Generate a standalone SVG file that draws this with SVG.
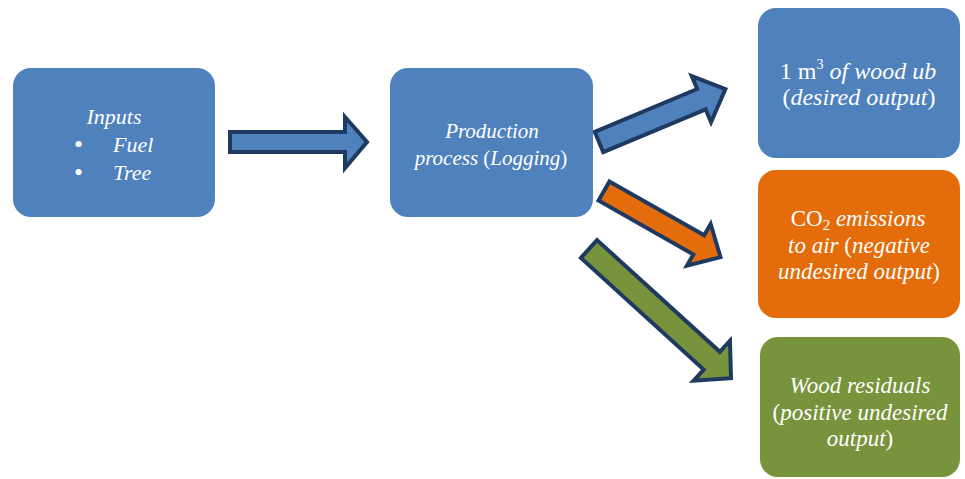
<svg xmlns="http://www.w3.org/2000/svg" width="965" height="479" viewBox="0 0 965 479">
<style>
.box{stroke:none}
.blue{fill:#4F81BD}
.orange{fill:#E46C0A}
.green{fill:#77933C}
.t{font-family:'Liberation Serif','Times New Roman',serif;fill:#FFFFFF;text-anchor:middle}
.tl{font-family:'Liberation Serif','Times New Roman',serif;fill:#FFFFFF}
.i{font-style:italic}
.arrow{stroke:#1F3A60;stroke-width:4;stroke-linejoin:miter}
</style>
<rect width="965" height="479" fill="#FFFFFF"/>
<g id="connectors">
  <polygon class="arrow blue" points="230,132 345,132 345,117 367,142 345,168 345,152 230,152"/>
  <polygon class="arrow blue" transform="translate(599,142) rotate(-22.7)" points="0,-11 111,-11 111,-25 137,0 111,25 111,11 0,11"/>
  <polygon class="arrow orange" transform="translate(604,191) rotate(29.6)" points="0,-11 109,-11 109,-24 134,0 109,24 109,11 0,11"/>
  <polygon class="arrow green" transform="translate(589,249) rotate(42.3)" points="0,-12 166,-12 166,-27 192,0 166,27 166,12 0,12"/>
</g>
<g id="inputs">
  <rect class="box blue" x="13" y="68" width="202" height="149" rx="18"/>
  <text class="t i" x="114" y="124" font-size="22">Inputs</text>
  <text class="tl" x="74" y="153" font-size="26">•</text>
  <text class="tl i" x="113" y="152" font-size="22">Fuel</text>
  <text class="tl" x="74" y="181" font-size="26">•</text>
  <text class="tl i" x="113" y="180" font-size="22">Tree</text>
</g>
<g id="production">
  <rect class="box blue" x="390" y="68" width="203" height="149" rx="18"/>
  <text class="t i" x="492" y="138" font-size="21">Production</text>
  <text class="t" x="491" y="165" font-size="21"><tspan class="i">process </tspan>(<tspan class="i">Logging</tspan>)</text>
</g>
<g id="wood">
  <rect class="box blue" x="758" y="8" width="202" height="150" rx="18"/>
  <text class="t" x="858" y="79" font-size="24">1 m<tspan font-size="14" dy="-10">3</tspan><tspan class="i" dy="10"> of wood ub</tspan></text>
  <text class="t" x="859" y="105" font-size="24">(<tspan class="i">desired output</tspan>)</text>
</g>
<g id="co2">
  <rect class="box orange" x="758" y="170" width="202" height="148" rx="18"/>
  <text class="t" x="858" y="226" font-size="23">CO<tspan font-size="15" dy="4">2</tspan><tspan class="i" dy="-4"> emissions</tspan></text>
  <text class="t" x="859" y="253" font-size="23"><tspan class="i">to air </tspan>(<tspan class="i">negative</tspan></text>
  <text class="t" x="859" y="279" font-size="23"><tspan class="i">undesired output</tspan>)</text>
</g>
<g id="residuals">
  <rect class="box green" x="760" y="337" width="200" height="140" rx="18"/>
  <text class="t i" x="860" y="393" font-size="23">Wood residuals</text>
  <text class="t" x="860" y="420" font-size="23">(<tspan class="i">positive undesired</tspan></text>
  <text class="t" x="860" y="446" font-size="23"><tspan class="i">output</tspan>)</text>
</g>
</svg>
